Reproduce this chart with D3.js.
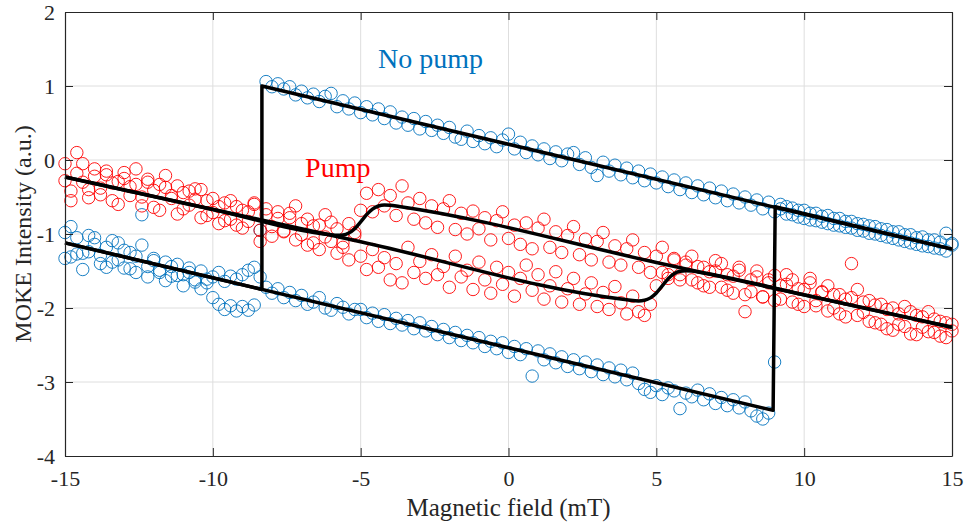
<!DOCTYPE html>
<html>
<head>
<meta charset="utf-8">
<title>MOKE hysteresis</title>
<script src="https://cdn.jsdelivr.net/npm/d3@7"></script>
<style>
  body{ margin:0; background:#fff; }
  text{ font-family:"Liberation Serif","Times New Roman",serif; }
</style>
</head>
<body>
<div id="container"></div>
<script>
// field sweep (mT), same grid for both sweep directions
var field = [
  -15,-14.8,-14.6,-14.4,-14.2,-14,-13.8,-13.6,-13.4,-13.2,
  -13,-12.8,-12.6,-12.4,-12.2,-12,-11.8,-11.6,-11.4,-11.2,
  -11,-10.8,-10.6,-10.4,-10.2,-10,-9.8,-9.6,-9.4,-9.2,
  -9,-8.8,-8.6,-8.4,-8.2,-8,-7.8,-7.6,-7.4,-7.2,
  -7,-6.8,-6.6,-6.4,-6.2,-6,-5.8,-5.6,-5.4,-5.2,
  -5,-4.8,-4.6,-4.4,-4.2,-4,-3.8,-3.6,-3.4,-3.2,
  -3,-2.8,-2.6,-2.4,-2.2,-2,-1.8,-1.6,-1.4,-1.2,
  -1,-0.8,-0.6,-0.4,-0.2,0,0.2,0.4,0.6,0.8,
  1,1.2,1.4,1.6,1.8,2,2.2,2.4,2.6,2.8,
  3,3.2,3.4,3.6,3.8,4,4.2,4.4,4.6,4.8,
  5,5.2,5.4,5.6,5.8,6,6.2,6.4,6.6,6.8,
  7,7.2,7.4,7.6,7.8,8,8.2,8.4,8.6,8.8,
  9,9.2,9.4,9.6,9.8,10,10.2,10.4,10.6,10.8,
  11,11.2,11.4,11.6,11.8,12,12.2,12.4,12.6,12.8,
  13,13.2,13.4,13.6,13.8,14,14.2,14.4,14.6,14.8,
  15];

// no pump, field going up
var noPumpUp = [
  -0.98,-1.31,-1.05,-1.26,-1.02,-1.14,-1.40,-1.18,-1.09,-1.35,
  -1.22,-1.47,-1.30,-1.15,-1.44,-1.33,-1.52,-1.38,-1.57,-1.41,
  -1.55,-1.46,-1.62,-1.50,-1.66,-1.58,-1.52,-1.64,-1.57,-1.61,
  -1.55,-1.49,-1.45,-1.58,-1.72,-1.80,-1.74,-1.86,-1.79,-1.90,
  -1.83,-1.95,-1.92,-1.86,-2.00,-2.03,-1.94,-1.99,-2.08,-2.02,
  -2.02,-2.13,-2.07,-2.18,-2.09,-2.21,-2.14,-2.23,-2.17,-2.28,
  -2.20,-2.31,-2.25,-2.36,-2.29,-2.40,-2.33,-2.44,-2.37,-2.47,
  -2.40,-2.52,-2.45,-2.55,-2.47,-2.60,-2.52,-2.63,-2.55,-2.92,
  -2.58,-2.70,-2.62,-2.74,-2.66,-2.79,-2.70,-2.82,-2.73,-2.86,
  -2.77,-2.90,-2.81,-2.93,-2.84,-2.97,-2.88,-3.02,-3.10,-3.14,
  -3.05,-3.17,-3.08,-3.12,-3.36,-3.15,-3.20,-3.11,-3.24,-3.16,
  -3.29,-3.21,-3.32,-3.24,-3.35,-3.27,-3.39,-3.46,-3.50,-3.42,
  -2.73,-0.66,-0.63,-0.74,-0.68,-0.79,-0.72,-0.82,-0.76,-0.86,
  -0.79,-0.89,-0.83,-0.92,-0.86,-0.96,-0.89,-1.00,-0.93,-1.04,
  -0.97,-1.08,-1.01,-1.12,-1.05,-1.16,-1.08,-1.19,-1.11,-1.23,
  -1.13];

// no pump, field going down
var noPumpDown = [
  -1.33,-0.90,-1.27,-1.48,-1.24,-1.05,-1.29,-1.45,-1.38,-1.12,
  -1.46,-1.25,-1.52,-0.74,-1.58,-1.36,-1.49,-1.63,-1.44,-1.56,
  -1.70,-1.52,-1.65,-1.74,-1.61,-1.86,-1.95,-2.02,-1.97,-2.04,
  -1.98,-2.03,-1.96,-0.95,1.06,0.99,1.03,0.96,0.99,0.88,
  0.93,0.84,0.89,0.79,0.86,0.90,0.72,0.80,0.69,0.77,
  0.64,0.72,0.61,0.69,0.56,0.65,0.50,0.58,0.47,0.56,
  0.42,0.52,0.40,0.47,0.36,0.44,0.31,0.28,0.39,0.25,
  0.33,0.22,0.30,0.18,0.27,0.35,0.15,0.24,0.10,0.19,
  0.07,0.15,0.02,0.11,-0.01,0.08,0.10,-0.06,0.03,-0.10,
  -0.21,-0.03,-0.15,-0.07,-0.20,-0.11,-0.24,-0.15,-0.28,-0.19,
  -0.31,-0.23,-0.36,-0.27,-0.40,-0.31,-0.44,-0.35,-0.47,-0.38,
  -0.51,-0.42,-0.55,-0.46,-0.58,-0.50,-0.61,-0.54,-0.66,-0.57,
  -0.70,-0.60,-0.73,-0.65,-0.77,-0.68,-0.81,-0.72,-0.84,-0.75,
  -0.88,-0.79,-0.91,-0.83,-0.95,-0.87,-0.99,-0.90,-1.02,-0.94,
  -1.06,-0.97,-1.10,-1.01,-1.14,-1.04,-1.17,-1.08,-1.20,-0.99,
  -1.15];

// pump, field going up
var pumpUp = [
  -0.05,-0.42,0.10,-0.30,-0.51,-0.12,-0.38,-0.20,-0.55,-0.29,
  -0.17,-0.48,-0.33,-0.62,-0.26,-0.41,-0.68,-0.37,-0.52,-0.73,
  -0.44,-0.61,-0.39,-0.78,-0.55,-0.71,-0.86,-0.58,-0.80,-0.63,
  -0.92,-0.70,-0.58,-0.95,-0.74,-1.03,-0.79,-0.97,-0.72,-1.08,
  -0.86,-1.15,-0.89,-1.21,-1.04,-0.84,-1.26,-1.12,-1.35,-0.98,
  -1.30,-1.48,-1.21,-1.45,-1.32,-1.62,-1.40,-1.66,-1.18,-1.52,
  -1.37,-1.60,-1.28,-1.55,-1.44,-1.72,-1.30,-1.58,-1.49,-1.75,
  -1.38,-1.62,-1.80,-1.45,-1.68,-1.52,-1.84,-1.60,-1.42,-1.76,
  -1.55,-1.88,-1.70,-1.51,-1.92,-1.74,-1.60,-1.95,-1.81,-1.66,
  -1.98,-1.79,-2.02,-1.71,-1.93,-2.08,-1.84,-2.05,-2.10,-1.95,
  -1.70,-1.52,-1.60,-1.35,-1.55,-1.38,-1.62,-1.44,-1.70,-1.51,
  -1.36,-1.72,-1.55,-1.80,-1.49,-2.05,-1.78,-1.58,-1.85,-1.62,
  -1.90,-1.70,-1.55,-1.92,-1.74,-1.98,-1.66,-1.90,-1.79,-2.04,
  -1.82,-2.08,-1.88,-1.40,-2.10,-1.92,-2.18,-1.96,-2.22,-2.02,
  -2.30,-2.08,-2.25,-2.05,-2.36,-2.12,-2.32,-2.15,-2.38,-2.20,
  -2.31];

// pump, field going down
var pumpDown = [
  -0.28,-0.55,-0.18,-0.05,-0.40,-0.22,-0.47,-0.15,-0.31,-0.60,
  -0.25,-0.36,-0.12,-0.50,-0.30,-0.64,-0.33,-0.21,-0.48,-0.35,
  -0.66,-0.42,-0.53,-0.40,-0.75,-0.52,-0.63,-0.82,-0.55,-0.88,
  -0.68,-0.83,-0.60,-1.10,-0.66,-0.90,-0.70,-0.96,-0.78,-0.62,
  -1.01,-0.80,-1.12,-0.88,-0.74,-1.10,-0.93,-1.18,-0.86,-1.02,
  -0.68,-0.45,-0.70,-0.40,-0.62,-0.48,-0.75,-0.35,-0.58,-0.80,
  -0.52,-0.85,-0.62,-0.91,-0.66,-0.55,-0.94,-0.72,-1.00,-0.69,
  -0.93,-0.78,-1.08,-0.82,-0.70,-1.06,-0.88,-1.14,-0.85,-1.20,
  -0.92,-0.80,-1.18,-0.97,-1.25,-1.02,-0.90,-1.28,-1.07,-1.35,
  -1.10,-0.98,-1.38,-1.16,-1.42,-1.20,-1.08,-1.45,-1.25,-1.52,
  -1.30,-1.18,-1.55,-1.33,-1.62,-1.42,-1.30,-1.66,-1.45,-1.72,
  -1.50,-1.40,-1.76,-1.57,-1.45,-1.82,-1.62,-1.50,-1.85,-1.66,
  -1.56,-1.88,-1.68,-1.62,-1.95,-1.75,-1.60,-1.97,-1.78,-1.70,
  -2.00,-1.82,-2.12,-1.86,-1.75,-2.06,-1.90,-2.20,-1.95,-2.28,
  -2.00,-2.22,-1.98,-2.35,-2.10,-2.26,-2.05,-2.33,-2.18,-2.40,
  -2.22];

// fitted loops, [field, intensity]
var noPumpFitDown = [[15,-1.205],[-8.34,1.001],[-8.34,-1.749],[-15,-1.12]];
var noPumpFitUp = [[-15,-1.12],[8.95,-3.383],[9.02,-0.632],[15,-1.205]];
var pumpFitUp = [[-15,-0.23],[-5,-1.105],[4.0,-1.888],[4.4,-1.905],[4.6,-1.896],[4.8,-1.863],
  [5.0,-1.796],[5.2,-1.70],[5.4,-1.604],[5.6,-1.538],[5.8,-1.504],[6.0,-1.496],[6.2,-1.501],
  [6.5,-1.519],[10,-1.823],[15,-2.26]];
var pumpFitDown = [[-15,-0.23],[-10,-0.668],[-6.0,-1.009],[-5.8,-1.016],[-5.6,-1.012],[-5.4,-0.986],
  [-5.2,-0.928],[-5.0,-0.837],[-4.8,-0.739],[-4.6,-0.663],[-4.4,-0.622],[-4.2,-0.608],[-4.0,-0.611],
  [-3.7,-0.628],[5,-1.385],[15,-2.26]];

var xTicks = [-15,-10,-5,0,5,10,15];
var yTicks = [-4,-3,-2,-1,0,1,2];
var labels = [{text:"No pump", x:-4.41, y:1.24, color:"#0072BD"},
              {text:"Pump", x:-6.88, y:-0.23, color:"#FF0000"}];

var margin = {top: 12, right: 15, bottom: 68, left: 65},
    width = 967 - margin.left - margin.right,
    height = 524 - margin.top - margin.bottom;

var svg = d3.select("#container").append("svg")
    .attr("width", 967)
    .attr("height", 524);

var g = svg.append("g")
    .attr("transform", "translate(" + margin.left + "," + margin.top + ")");

var xScale = d3.scaleLinear().domain([-15, 15]).range([0, width]);
var yScale = d3.scaleLinear().domain([-4, 2]).range([height, 0]);

// grid
g.append("g").selectAll("line").data(xTicks.slice(1, -1)).enter().append("line")
    .attr("x1", d => xScale(d)).attr("x2", d => xScale(d))
    .attr("y1", 0).attr("y2", height)
    .attr("stroke", "#dedede").attr("stroke-width", 1);
g.append("g").selectAll("line").data(yTicks.slice(1, -1)).enter().append("line")
    .attr("y1", d => yScale(d)).attr("y2", d => yScale(d))
    .attr("x1", 0).attr("x2", width)
    .attr("stroke", "#dedede").attr("stroke-width", 1);

// data points
function drawPoints(vals, color) {
  g.append("g").selectAll("circle").data(vals).enter().append("circle")
      .attr("cx", (d, i) => xScale(field[i]))
      .attr("cy", d => yScale(d))
      .attr("r", 6.2)
      .attr("fill", "none")
      .attr("stroke", color)
      .attr("stroke-width", 0.9);
}
drawPoints(noPumpUp, "#0072BD");
drawPoints(noPumpDown, "#0072BD");
drawPoints(pumpUp, "#FF0000");
drawPoints(pumpDown, "#FF0000");

// fit lines
var straight = d3.line().x(d => xScale(d[0])).y(d => yScale(d[1]));
var smooth = d3.line().x(d => xScale(d[0])).y(d => yScale(d[1])).curve(d3.curveMonotoneX);

[noPumpFitDown, noPumpFitUp].forEach(function(f) {
  g.append("path").datum(f).attr("d", straight)
      .attr("fill", "none").attr("stroke", "#000").attr("stroke-width", 3.5)
      .attr("stroke-linejoin", "round");
});
[pumpFitUp, pumpFitDown].forEach(function(f) {
  g.append("path").datum(f).attr("d", smooth)
      .attr("fill", "none").attr("stroke", "#000").attr("stroke-width", 3.5)
      .attr("stroke-linejoin", "round");
});

// annotations
g.selectAll(".note").data(labels).enter().append("text")
    .attr("class", "note")
    .attr("x", d => xScale(d.x))
    .attr("y", d => yScale(d.y))
    .attr("fill", d => d.color)
    .style("font-size", "28px")
    .text(d => d.text);

// axes box with inward ticks on all sides
var fmt = d => String(d);
var axisCol = "#262626";
g.append("g").attr("transform", "translate(0," + height + ")")
    .call(d3.axisBottom(xScale).tickValues(xTicks).tickFormat(fmt).tickSizeInner(-8).tickSizeOuter(0).tickPadding(14));
g.append("g")
    .call(d3.axisTop(xScale).tickValues(xTicks).tickFormat("").tickSizeInner(-8).tickSizeOuter(0));
g.append("g")
    .call(d3.axisLeft(yScale).tickValues(yTicks).tickFormat(fmt).tickSizeInner(-8).tickSizeOuter(0).tickPadding(10));
g.append("g").attr("transform", "translate(" + width + ",0)")
    .call(d3.axisRight(yScale).tickValues(yTicks).tickFormat("").tickSizeInner(-8).tickSizeOuter(0));

g.selectAll(".domain").attr("stroke", axisCol).attr("stroke-width", 1.2);
g.selectAll(".tick line").attr("stroke", axisCol).attr("stroke-width", 1);
g.selectAll(".tick text")
    .attr("fill", axisCol)
    .style("font-family", "'Liberation Serif','Times New Roman',serif")
    .style("font-size", "22px");

// axis labels
g.append("text")
    .attr("x", width / 2)
    .attr("y", height + 60)
    .attr("text-anchor", "middle")
    .attr("fill", axisCol)
    .style("font-size", "25px")
    .text("Magnetic field (mT)");

g.append("text")
    .attr("transform", "rotate(-90)")
    .attr("x", -height / 2)
    .attr("y", -34)
    .attr("text-anchor", "middle")
    .attr("fill", axisCol)
    .style("font-size", "24px")
    .text("MOKE Intensity (a.u.)");
</script>
</body>
</html>
